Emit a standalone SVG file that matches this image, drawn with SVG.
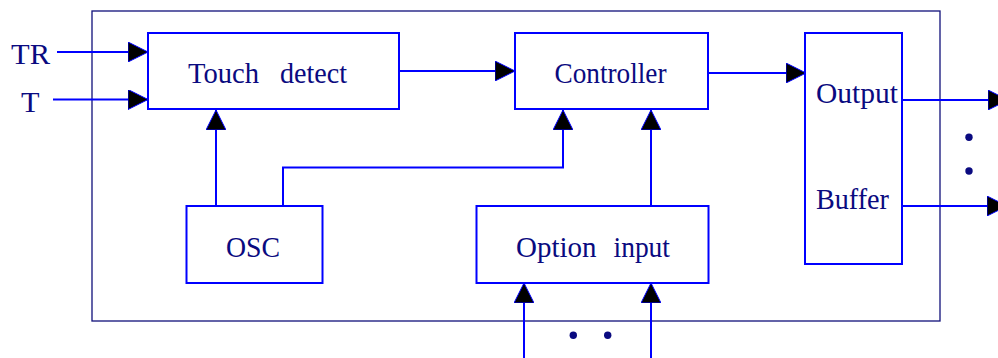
<svg xmlns="http://www.w3.org/2000/svg" width="998" height="358" viewBox="0 0 998 358">
  <style>
    .frame { fill: none; stroke: #10107a; stroke-width: 1.3; }
    .box { fill: #ffffff; stroke: #0000ff; stroke-width: 2; }
    .wire { fill: none; stroke: #0000ff; stroke-width: 2; }
    .lbl { font-family: "Liberation Serif", "Times New Roman", serif; font-size: 30px; fill: #0a0a80; }
    .dot { fill: #0a0a80; }
  </style>
  <defs>
    <marker id="arrow" viewBox="0 0 20 20" refX="20" refY="10" markerWidth="20" markerHeight="20" markerUnits="userSpaceOnUse" orient="auto">
      <path d="M0,0 L20,10 L0,20 Z" fill="#000000" stroke="#0000ff" stroke-width="1"/>
    </marker>
  </defs>

  <!-- chip boundary -->
  <rect class="frame" x="92" y="11" width="848" height="310"/>

  <!-- connectors -->
  <g id="connectors">
    <line class="wire" x1="57" y1="52" x2="148" y2="52" marker-end="url(#arrow)"/>
    <line class="wire" x1="53" y1="99.5" x2="148" y2="99.5" marker-end="url(#arrow)"/>
    <line class="wire" x1="399" y1="71" x2="515" y2="71" marker-end="url(#arrow)"/>
    <line class="wire" x1="708" y1="73" x2="806" y2="73" marker-end="url(#arrow)"/>
    <line class="wire" x1="216" y1="206" x2="216" y2="110" marker-end="url(#arrow)"/>
    <polyline class="wire" points="283,206 283,167.5 563,167.5 563,110" marker-end="url(#arrow)"/>
    <line class="wire" x1="651" y1="206" x2="651" y2="110" marker-end="url(#arrow)"/>
    <line class="wire" x1="524" y1="358" x2="524" y2="283" marker-end="url(#arrow)"/>
    <line class="wire" x1="651" y1="358" x2="651" y2="283" marker-end="url(#arrow)"/>
    <line class="wire" x1="902" y1="100" x2="1008" y2="100" marker-end="url(#arrow)"/>
    <line class="wire" x1="899" y1="206" x2="1007" y2="206" marker-end="url(#arrow)"/>
  </g>

  <!-- pin labels -->
  <text class="lbl" x="11" y="63.5" textLength="39" lengthAdjust="spacingAndGlyphs">TR</text>
  <text class="lbl" x="21" y="111.5" textLength="18.5" lengthAdjust="spacingAndGlyphs">T</text>

  <g id="touch-detect">
    <rect class="box" x="148" y="33" width="251" height="76"/>
    <text class="lbl" y="82.7"><tspan x="188" textLength="71" lengthAdjust="spacingAndGlyphs">Touch</tspan> <tspan x="280" textLength="67" lengthAdjust="spacingAndGlyphs">detect</tspan></text>
  </g>

  <g id="controller">
    <rect class="box" x="515" y="33" width="193" height="76"/>
    <text class="lbl" x="554.5" y="83.3" textLength="112" lengthAdjust="spacingAndGlyphs">Controller</text>
  </g>

  <g id="output-buffer">
    <rect class="box" x="805" y="33" width="97" height="231"/>
    <text class="lbl" x="816" y="102.5" textLength="82" lengthAdjust="spacingAndGlyphs">Output</text>
    <text class="lbl" x="816" y="209.3" textLength="73" lengthAdjust="spacingAndGlyphs">Buffer</text>
  </g>

  <g id="osc">
    <rect class="box" x="186.5" y="206" width="136" height="77"/>
    <text class="lbl" x="226" y="256.7" textLength="54" lengthAdjust="spacingAndGlyphs">OSC</text>
  </g>

  <g id="option-input">
    <rect class="box" x="476.5" y="206" width="232" height="77"/>
    <text class="lbl" y="256.7"><tspan x="516" textLength="80.5" lengthAdjust="spacingAndGlyphs">Option</tspan> <tspan x="613.5" textLength="56.5" lengthAdjust="spacingAndGlyphs">input</tspan></text>
  </g>

  <!-- ellipsis marks for further outputs and option pins -->
  <circle class="dot" cx="969" cy="137.3" r="3.7"/>
  <circle class="dot" cx="969" cy="171" r="3.7"/>
  <circle class="dot" cx="573.3" cy="335.3" r="3.7"/>
  <circle class="dot" cx="607.7" cy="335.3" r="3.7"/>
</svg>
